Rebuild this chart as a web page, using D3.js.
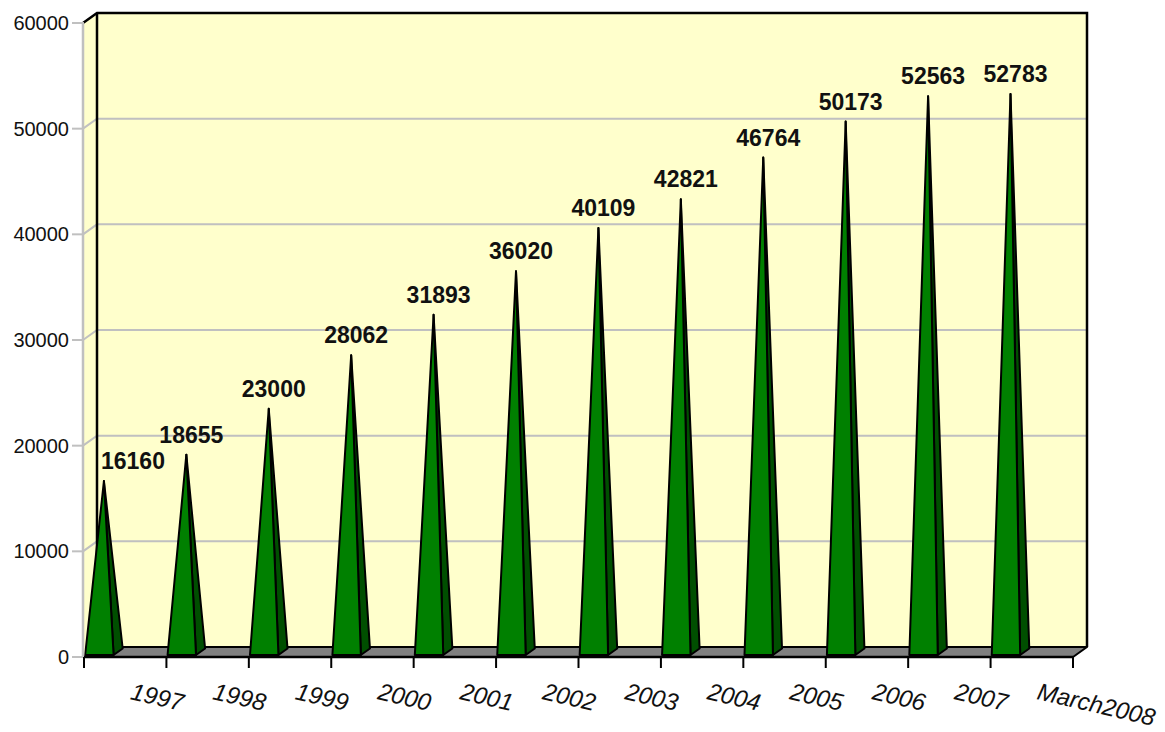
<!DOCTYPE html>
<html>
<head>
<meta charset="utf-8">
<script src="https://cdn.jsdelivr.net/npm/d3@7"></script>
<style>
  html, body { margin: 0; padding: 0; background: #fff; }
  svg { display: block; }
</style>
</head>
<body>
<div id="chart"></div>
<script>
// 3D pyramid column chart, excel style: back wall, side wall, floor, pyramids

const categories = ['1997', '1998', '1999', '2000', '2001', '2002', '2003',
  '2004', '2005', '2006', '2007', 'March2008'];
const values = [16160, 18655, 23000, 28062, 31893, 36020, 40109, 42821,
  46764, 50173, 52563, 52783];
const yTicks = [0, 10000, 20000, 30000, 40000, 50000, 60000];

const W = 1165, H = 732;
const DX = 14, DY = -10;          // depth offset of the back plane
const X0 = 84, X1 = 1073;         // front edge of the floor
const Y0 = 657, YTOP = 23;        // front value 0 and 60000

const x = d3.scaleBand().domain(categories).range([X0, X1]);
const y = d3.scaleLinear().domain([0, 60000]).range([Y0, YTOP]);

// project (screen x at front, value, depth 0..1) to the page
function P(px, v, z) {
  return [px + DX * z, y(v) + DY * z];
}

const svg = d3.select('#chart').append('svg')
  .attr('width', W).attr('height', H);

const line = d3.line();

// side wall
svg.append('path')
  .attr('d', line([P(X0 - 1, 0, 0), P(X0 - 1, 60000, 0), P(X0 - 1, 60000, 1), P(X0 - 1, 0, 1)]) + 'Z')
  .attr('fill', '#ffffcc');

// back wall
svg.append('rect')
  .attr('x', X0 + DX - 1).attr('y', y(60000) + DY)
  .attr('width', X1 - X0 + 1).attr('height', y(0) - y(60000))
  .attr('fill', '#ffffcc');

// gridlines on both walls
const grid = svg.append('g').attr('stroke', '#c0c0c0').attr('stroke-width', 2).attr('fill', 'none');
yTicks.filter(t => t > 0 && t < 60000).forEach(t => {
  grid.append('path').attr('d', line([P(X0 - 1, t, 0), P(X0 - 1, t, 1), P(X1 + 1, t, 1)]));
});

// wall outlines
svg.append('path')
  .attr('d', line([P(X0 - 1, 60000, 0), P(X0 - 1, 60000, 1), P(X1, 60000, 1), P(X1, 0, 1)]))
  .attr('fill', 'none').attr('stroke', '#000').attr('stroke-width', 2.5);
svg.append('path')
  .attr('d', line([P(X0 - 1, 0, 1), P(X0 - 1, 60000, 1)]))
  .attr('fill', 'none').attr('stroke', '#000').attr('stroke-width', 2.5);

// floor
svg.append('path')
  .attr('d', line([P(X0, 0, 0), P(X1, 0, 0), P(X1, 0, 1), P(X0, 0, 1)]) + 'Z')
  .attr('fill', '#808080').attr('stroke', '#000').attr('stroke-width', 2)
  .attr('stroke-linejoin', 'round');

// pyramids
const step = x.step();
const bx0 = -0.02 * step, bx1 = 0.325 * step;   // base, in band
const z0 = 0.2, z1 = 0.85, zm = 0.525;

const pyr = svg.append('g').selectAll('g')
  .data(values.map((v, i) => ({ v, cat: categories[i] })))
  .join('g');

pyr.each(function (d) {
  const g = d3.select(this);
  const s = x(d.cat);
  const apex = P(s + (bx0 + bx1) / 2, d.v, zm);
  const fl = P(s + bx0, 0, z0), fr = P(s + bx1, 0, z0), br = P(s + bx1, 0, z1);
  d.apex = apex;
  g.append('path')
    .attr('d', line([fr, br, apex]) + 'Z')
    .attr('fill', '#004f00').attr('stroke', '#000').attr('stroke-width', 2)
    .attr('stroke-linejoin', 'round');
  g.append('path')
    .attr('d', line([fl, fr, apex]) + 'Z')
    .attr('fill', '#008000').attr('stroke', '#000').attr('stroke-width', 2)
    .attr('stroke-linejoin', 'round');
});

// value labels
const labels = svg.append('g')
  .attr('font-family', '"Liberation Sans", Arial, sans-serif')
  .attr('font-weight', 'bold').attr('font-size', 23).attr('fill', '#111');
pyr.each(function (d) {
  const t = labels.append('text').text(d.v)
    .attr('text-anchor', 'middle')
    .attr('x', d.apex[0] + 5).attr('y', d.apex[1] - 12);
  const bb = t.node().getBBox();
  if (bb.x < X0 + DX + 3) t.attr('x', X0 + DX + 3 + bb.width / 2);
});

// y axis (gray)
const ya = svg.append('g');
ya.append('line')
  .attr('x1', X0 - 1).attr('x2', X0 - 1).attr('y1', y(60000)).attr('y2', y(0))
  .attr('stroke', '#c0c0c0').attr('stroke-width', 2.5);
ya.selectAll('line.tk').data(yTicks).join('line').attr('class', 'tk')
  .attr('x1', X0 - 12).attr('x2', X0).attr('y1', d => y(d)).attr('y2', d => y(d))
  .attr('stroke', '#c0c0c0').attr('stroke-width', 2);
ya.selectAll('text').data(yTicks).join('text')
  .attr('x', X0 - 15).attr('y', d => y(d)).attr('dy', '0.35em')
  .attr('text-anchor', 'end')
  .attr('font-family', '"Liberation Sans", Arial, sans-serif').attr('font-size', 20)
  .attr('fill', '#111')
  .text(d => d);

// x axis (black) with ticks at band edges
const edges = categories.map(c => x(c)).concat([X1]);
const xa = svg.append('g');
xa.append('line')
  .attr('x1', X0).attr('x2', X1).attr('y1', Y0).attr('y2', Y0)
  .attr('stroke', '#000').attr('stroke-width', 2.5);
xa.selectAll('line.tk').data(edges).join('line').attr('class', 'tk')
  .attr('x1', d => d).attr('x2', d => d).attr('y1', Y0).attr('y2', Y0 + 11)
  .attr('stroke', '#000').attr('stroke-width', 2);
xa.selectAll('text').data(categories).join('text')
  .attr('transform', (d, i) => `translate(${edges[i + 1] - 37},${Y0 + 42}) rotate(13)`)
  .attr('font-family', '"Liberation Sans", Arial, sans-serif')
  .attr('font-style', 'italic').attr('font-size', 24).attr('fill', '#111')
  .text(d => d);
</script>
</body>
</html>
